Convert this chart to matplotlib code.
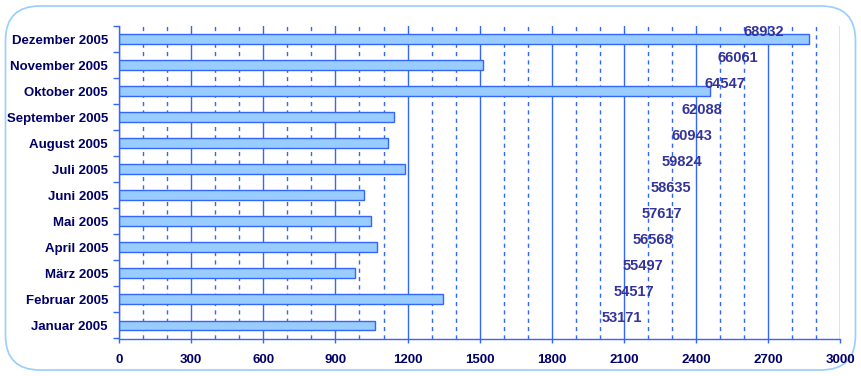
import matplotlib
matplotlib.use("Agg")
import matplotlib.pyplot as plt
from matplotlib.ticker import MultipleLocator, FixedLocator
from matplotlib.patches import FancyBboxPatch

months = ["Januar 2005", "Februar 2005", "März 2005", "April 2005", "Mai 2005",
          "Juni 2005", "Juli 2005", "August 2005", "September 2005",
          "Oktober 2005", "November 2005", "Dezember 2005"]
visits = [1064, 1346, 980, 1071, 1049, 1018, 1189, 1119, 1145, 2459, 1514, 2871]
totals = [53171, 54517, 55497, 56568, 57617, 58635, 59824, 60943, 62088,
          64547, 66061, 68932]

blue = "#3366ff"
navy = "#000066"
plt.rcParams["font.family"] = ["Liberation Sans", "DejaVu Sans"]

fig = plt.figure(figsize=(8.62, 3.76), dpi=100)
fig.patch.set_facecolor("white")

# rounded frame around the chart
frame = FancyBboxPatch((5.5 / 862, 6 / 376), 850 / 862, 364 / 376,
                       boxstyle="round,pad=0,rounding_size=0.04",
                       transform=fig.transFigure, facecolor="none",
                       edgecolor="#99ccff", linewidth=1.2, zorder=-1,
                       mutation_aspect=862 / 376)
fig.patches.append(frame)

ax = fig.add_axes([119 / 862, 1 - 338.5 / 376, 721.5 / 862, 312.5 / 376])
ax.set_facecolor("none")

y = list(range(len(months)))
ax.barh(y, visits, height=0.38, color="#99ccff", edgecolor=blue,
        linewidth=1, zorder=3)

ax.set_xlim(0, 3000)
ax.set_ylim(-0.5, len(months) - 0.5)
ax.xaxis.set_major_locator(MultipleLocator(300))
ax.xaxis.set_minor_locator(MultipleLocator(100))
ax.grid(axis="x", which="major", color=blue, linewidth=1, linestyle="-", zorder=1)
ax.grid(axis="x", which="minor", color=blue, linewidth=1, linestyle=(0, (3, 3)), zorder=1)

ax.set_yticks(y)
ax.set_yticklabels(months)
ax.yaxis.set_minor_locator(FixedLocator([i - 0.5 for i in range(len(months) + 1)]))
ax.tick_params(axis="y", which="major", length=0, pad=8, labelsize=9.5,
               labelcolor=navy)
ax.tick_params(axis="y", which="minor", length=4, color=blue, width=1)
ax.tick_params(axis="x", which="major", length=3, color=blue, width=1,
               labelsize=9.5, labelcolor=navy, pad=8)
ax.tick_params(axis="x", which="minor", length=0)
for lab in ax.get_xticklabels() + ax.get_yticklabels():
    lab.set_fontweight("bold")

for s in ["top", "right"]:
    ax.spines[s].set_visible(False)
for s in ["left", "bottom"]:
    ax.spines[s].set_color(blue)
    ax.spines[s].set_linewidth(1)
    ax.spines[s].set_zorder(4)

# running totals on a hidden secondary scale
ax2 = ax.twiny()
ax2.set_xlim(0, 80000)
ax2.set_ylim(ax.get_ylim())
ax2.axis("off")
for i, t in enumerate(totals):
    ax2.annotate(str(t), (t, i), xytext=(3, 7), textcoords="offset pixels",
                 ha="left", va="center", fontsize=10.5, fontweight="bold",
                 color="#333399", zorder=5)

fig.savefig("out.png", dpi=100)
